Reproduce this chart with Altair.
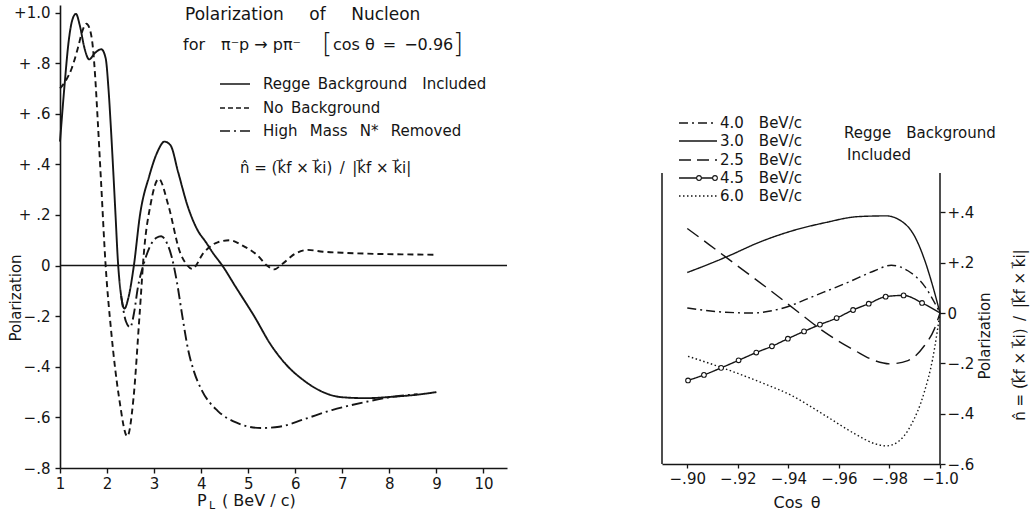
import altair as alt
import pandas as pd

INK = "#151515"
FONT = "DejaVu Sans"
EN, EM = "\u2002", "\u2003"

# ---------------- Left panel: polarization vs P_L ----------------
left_series = ["Regge Background Included", "No Background", "High Mass N* Removed"]
left_dash = [[1, 0], [6, 4], [11, 4, 2, 4]]

regge_p = [1.0, 1.1, 1.18, 1.26, 1.34, 1.42, 1.52, 1.62, 1.74, 1.88, 1.97, 2.03, 2.08, 2.13,
           2.18, 2.23, 2.30, 2.37, 2.45, 2.57, 2.7, 2.9, 3.07, 3.22, 3.35, 3.51, 3.71, 3.91,
           4.11, 4.25, 4.45, 4.74, 5.14, 5.47, 5.8, 6.19, 6.59, 6.98, 7.5, 8.1, 8.6, 9.0]
regge_v = [0.49, 0.72, 0.88, 0.97, 0.995, 0.95, 0.86, 0.815, 0.84, 0.855, 0.82, 0.70, 0.55,
           0.38, 0.2, 0.02, -0.12, -0.17, -0.13, 0.0, 0.2, 0.356, 0.449, 0.49, 0.475, 0.37,
           0.237, 0.145, 0.09, 0.05, 0.0, -0.086, -0.204, -0.31, -0.39, -0.455, -0.50, -0.52,
           -0.524, -0.518, -0.51, -0.50]

nobg_p = [1.0, 1.12, 1.25, 1.38, 1.48, 1.56, 1.64, 1.70, 1.75, 1.80, 1.87, 1.97, 2.09, 2.26,
          2.43, 2.56, 2.69, 2.79, 2.92, 3.1, 3.3, 3.55, 3.68, 3.81, 4.05, 4.35, 4.61, 4.88,
          5.2, 5.4, 5.55, 5.73, 5.99, 6.26, 6.59, 7.11, 7.77, 8.5, 9.0]
nobg_v = [0.70, 0.73, 0.78, 0.86, 0.93, 0.956, 0.93, 0.86, 0.74, 0.58, 0.34, 0.0, -0.264,
          -0.528, -0.675, -0.528, -0.198, 0.066, 0.237, 0.343, 0.24, 0.053, 0.007, -0.013,
          0.05, 0.092, 0.10, 0.079, 0.04, 0.0, -0.015, 0.007, 0.046, 0.062, 0.055, 0.05, 0.046,
          0.044, 0.043]

high_p = [2.30, 2.4, 2.49, 2.58, 2.65, 2.79, 2.92, 3.05, 3.15, 3.27, 3.38, 3.48, 3.6, 3.72,
          3.85, 4.02, 4.35, 4.74, 5.27, 5.66, 6.19, 6.78, 7.44, 8.1, 8.6]
high_v = [-0.12, -0.22, -0.244, -0.18, -0.092, 0.013, 0.079, 0.11, 0.116, 0.09, 0.03, -0.06,
          -0.2, -0.33, -0.42, -0.495, -0.574, -0.62, -0.642, -0.637, -0.607, -0.571, -0.541,
          -0.518, -0.508]

left_x_ticks = [1, 2, 3, 4, 5, 6, 7, 8, 9, 10]
left_x_labels = ["1", "2", "3", "4", "5", "6", "7", "8", "9", "10"]
left_y_ticks = [-0.8, -0.6, -0.4, -0.2, 0.0, 0.2, 0.4, 0.6, 0.8, 1.0]
left_y_labels = ["\u2212.8", "\u2212.6", "\u2212.4", "\u2212.2", "0", "+ .2", "+ .4", "+ .6",
                 "+ .8", "+1.0"]

# ---------------- Right panel: polarization vs cos(theta) ----------------
right_series = ["4.0 BeV/c", "3.0 BeV/c", "2.5 BeV/c", "4.5 BeV/c", "6.0 BeV/c"]
right_dash = [[9, 4, 2, 4], [1, 0], [14, 7], [1, 0], [1.5, 2.5]]

c30 = [-0.90, -0.9085, -0.9164, -0.9282, -0.9413, -0.9545, -0.9676, -0.9787, -0.9846, -0.9899,
       -0.9938, -0.9971, -1.0]
v30 = [0.161, 0.194, 0.227, 0.28, 0.326, 0.359, 0.383, 0.386, 0.366, 0.306, 0.214, 0.108, 0.0]

c40 = [-0.90, -0.9151, -0.9256, -0.9387, -0.9505, -0.9636, -0.9741, -0.9807, -0.9873, -0.9938,
       -1.0]
v40 = [0.02, 0.003, 0.0, 0.022, 0.069, 0.122, 0.168, 0.19, 0.168, 0.108, 0.0]

c25 = [-0.90, -0.9085, -0.919, -0.9322, -0.944, -0.9545, -0.9663, -0.9741, -0.9801, -0.9873,
       -0.9938, -0.9978, -1.0]
v25 = [0.336, 0.273, 0.194, 0.095, 0.003, -0.077, -0.149, -0.189, -0.202, -0.189, -0.13,
       -0.063, 0.0]

c45 = [-0.9003, -0.9066, -0.9134, -0.9203, -0.9273, -0.9335, -0.9398, -0.9462, -0.9525,
       -0.9591, -0.9656, -0.9718, -0.9785, -0.9856, -0.9929, -1.0]
v45 = [-0.268, -0.246, -0.218, -0.188, -0.157, -0.132, -0.102, -0.073, -0.046, -0.020, 0.012,
       0.037, 0.065, 0.070, 0.040, 0.0]

c60 = [-0.9003, -0.9151, -0.9282, -0.9413, -0.9545, -0.9663, -0.9741, -0.9787, -0.9833,
       -0.9885, -0.9938, -0.9971, -1.0]
v60 = [-0.172, -0.222, -0.272, -0.328, -0.407, -0.48, -0.519, -0.528, -0.512, -0.446, -0.314,
       -0.182, 0.0]

right_x_ticks = [-0.90, -0.92, -0.94, -0.96, -0.98, -1.0]
right_x_labels = ["\u2212.90", "\u2212.92", "\u2212.94", "\u2212.96", "\u2212.98", "\u22121.0"]
right_y_ticks = [-0.6, -0.4, -0.2, 0.0, 0.2, 0.4]
right_y_labels = ["\u2212.6", "\u2212.4", "\u2212.2", "0", "+.2", "+.4"]

# ---------------- helpers ----------------
def label_expr(values, labels):
    parts = [f"abs(datum.value - ({v})) < 1e-6 ? '{l}'" for v, l in zip(values, labels)]
    return " : ".join(parts) + " : ''"


dummy = pd.DataFrame({"k": [0]})


def txt(text, x, y, size=15, align="left", angle=0, baseline="middle", weight="normal"):
    return alt.Chart(dummy).mark_text(
        text=text, align=align, baseline=baseline, fontSize=size, font=FONT,
        angle=angle, color=INK, fontWeight=weight
    ).encode(x=alt.value(x), y=alt.value(y))


def seg(x1, x2, y, dash, width=1.6):
    return alt.Chart(dummy).mark_rule(
        strokeDash=dash, strokeWidth=width, color=INK
    ).encode(x=alt.value(x1), x2=alt.value(x2), y=alt.value(y))


def dot(x, y):
    return alt.Chart(dummy).mark_point(
        shape="circle", size=22, filled=True, fill="white", stroke=INK, strokeWidth=1.1,
        opacity=1
    ).encode(x=alt.value(x), y=alt.value(y))


FORMULA = f"n\u0302 = (k\u20d7f \u00d7 k\u20d7i){EN}/{EN}|k\u20d7f \u00d7 k\u20d7i|"

# ---------------- left panel ----------------
LW, LH = 447, 463
df_left = pd.concat([
    pd.DataFrame({"s": left_series[0], "P": regge_p, "v": regge_v}),
    pd.DataFrame({"s": left_series[1], "P": nobg_p, "v": nobg_v}),
    pd.DataFrame({"s": left_series[2], "P": high_p, "v": high_v}),
])

lx = alt.X("P:Q", scale=alt.Scale(domain=[1, 10.5], nice=False, zero=False),
           axis=alt.Axis(values=left_x_ticks, labelExpr=label_expr(left_x_ticks, left_x_labels),
                         title=None, grid=False, tickSize=5, labelPadding=3,
                         labelOverlap=False, labelFlush=False,
                         domainColor=INK, tickColor=INK, domainWidth=1.6, tickWidth=1.4))
ly = alt.Y("v:Q", scale=alt.Scale(domain=[-0.8, 1.03], nice=False, zero=False),
           axis=alt.Axis(values=left_y_ticks, labelExpr=label_expr(left_y_ticks, left_y_labels),
                         title=None, grid=False, tickSize=5, labelPadding=5,
                         labelOverlap=False, labelFlush=False,
                         domainColor=INK, tickColor=INK, domainWidth=1.6, tickWidth=1.4))

left_lines = alt.Chart(df_left).mark_line(
    interpolate="monotone", strokeWidth=1.9, color=INK
).encode(
    x=lx, y=ly,
    strokeDash=alt.StrokeDash("s:N", scale=alt.Scale(domain=left_series, range=left_dash),
                              legend=None),
    detail="s:N",
)

zero_line = alt.Chart(dummy).mark_rule(color=INK, strokeWidth=1.5).encode(y=alt.datum(0))

left_layers = [
    zero_line, left_lines,
    txt(f"Polarization{EM}{EN}of{EM}{EN}Nucleon", 125, 10, size=17),
    txt(f"for{EN}{EN}\u03c0\u207bp \u2192 p\u03c0\u207b", 123, 40, size=16),
    txt("[", 262, 39, size=26, weight="lighter"),
    txt(f"cos \u03b8{EN}={EN}\u22120.96", 273, 40, size=16),
    txt("]", 393, 39, size=26, weight="lighter"),
    seg(160, 190, 79, [1, 0]),
    txt(f"Regge{EN}Background{EM}Included", 203, 79),
    seg(160, 190, 103, [5, 3]),
    txt(f"No{EN}Background", 203, 103),
    seg(160, 190, 126, [10, 4, 2, 4]),
    txt(f"High{EN} Mass{EN} N*{EN} Removed", 203, 126),
    txt(FORMULA, 180, 163),
    txt("Polarization", -44, 293, size=15, align="center", angle=270),
    txt("P", 137, 496, size=16),
    txt("L", 149, 501, size=11),
    txt("( BeV / c)", 162, 496, size=16),
]
left = alt.layer(*left_layers).properties(width=LW, height=LH)

# ---------------- right panel ----------------
RW, RH = 278, 459
df_right = pd.concat([
    pd.DataFrame({"s": right_series[0], "c": c40, "v": v40}),
    pd.DataFrame({"s": right_series[1], "c": c30, "v": v30}),
    pd.DataFrame({"s": right_series[2], "c": c25, "v": v25}),
    pd.DataFrame({"s": right_series[3], "c": c45, "v": v45}),
    pd.DataFrame({"s": right_series[4], "c": c60, "v": v60}),
])
df_circ = pd.DataFrame({"c": c45[:-1], "v": v45[:-1]})

rx = alt.X("c:Q", scale=alt.Scale(domain=[-1.0, -0.89], reverse=True, nice=False, zero=False),
           axis=alt.Axis(values=right_x_ticks, labelExpr=label_expr(right_x_ticks, right_x_labels),
                         title=None, grid=False, tickSize=4, labelPadding=3,
                         labelOverlap=False, labelFlush=False,
                         domainColor=INK, tickColor=INK, domainWidth=1.5, tickWidth=1.3))
ry = alt.Y("v:Q", scale=alt.Scale(domain=[-0.6, 1.224], nice=False, zero=False),
           axis=alt.Axis(values=right_y_ticks, labelExpr=label_expr(right_y_ticks, right_y_labels),
                         orient="right", title=None, grid=False, domain=False, tickSize=5,
                         labelOverlap=False, labelFlush=False,
                         labelPadding=2, tickColor=INK, tickWidth=1.3))

right_lines = alt.Chart(df_right).mark_line(
    interpolate="monotone", strokeWidth=1.4, color=INK
).encode(
    x=rx, y=ry,
    strokeDash=alt.StrokeDash("s:N", scale=alt.Scale(domain=right_series, range=right_dash),
                              legend=None),
    detail="s:N",
    order=alt.Order("c:Q", sort="descending"),
)
circles = alt.Chart(df_circ).mark_point(
    shape="circle", size=22, filled=True, fill="white", stroke=INK, strokeWidth=1.1, opacity=1
).encode(x="c:Q", y="v:Q")

frame = alt.Chart(pd.DataFrame({"c": [-0.89, -1.0], "lo": [-0.6, -0.6], "hi": [0.556, 0.556]})
                  ).mark_rule(color=INK, strokeWidth=1.5).encode(x="c:Q", y="lo:Q", y2="hi:Q")

right_layers = [
    frame, right_lines, circles,
    seg(17, 55, 118, [9, 4, 2, 4], 1.4), txt(f"4.0{EM}BeV/c", 58, 118),
    seg(17, 55, 136, [1, 0], 1.4), txt(f"3.0{EM}BeV/c", 58, 136),
    seg(17, 55, 155, [12, 6], 1.4), txt(f"2.5{EM}BeV/c", 58, 155),
    seg(17, 53, 173, [1, 0], 1.4), dot(37, 173), dot(53, 173), txt(f"4.5{EM}BeV/c", 58, 173),
    seg(17, 55, 191, [1.5, 2.5], 1.4), txt(f"6.0{EM}BeV/c", 58, 191),
    txt(f"Regge{EM}Background", 182, 128),
    txt("Included", 185, 150),
    txt(f"Cos{EN}\u03b8", 135, 498, size=16, align="center"),
    txt("Polarization", 323, 331, size=15, align="center", angle=270),
    txt(FORMULA, 358, 330, size=15, align="center", angle=270),
]
right = alt.layer(*right_layers).properties(width=RW, height=RH)

chart = alt.hconcat(left, right, spacing=153).resolve_scale(
    strokeDash="independent"
).properties(
    padding={"left": 9, "top": 5, "right": 4, "bottom": 2},
    background="white",
).configure_view(stroke=None).configure_axis(
    labelFont=FONT, labelFontSize=15, labelColor=INK, titleFont=FONT
)

chart.save("out.html", embed_options={"renderer": "svg", "actions": False})
